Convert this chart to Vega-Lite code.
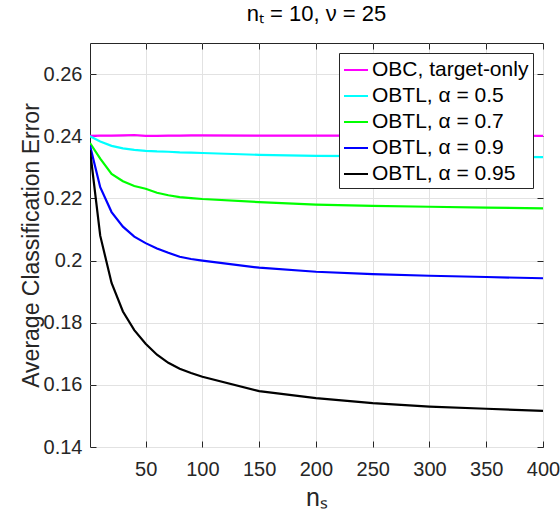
{
  "$schema": "https://vega.github.io/schema/vega-lite/v6.json",
  "width": 453,
  "height": 404,
  "autosize": {"type": "none"},
  "padding": {"left": 90, "top": 43, "right": 17, "bottom": 71},
  "background": "white",
  "title": {
    "text": "nₜ = 10, ν = 25",
    "fontSize": 22,
    "font": "Liberation Sans",
    "fontWeight": "normal",
    "color": "#000000",
    "anchor": "middle",
    "offset": 17
  },
  "config": {
    "font": "Liberation Sans",
    "view": {"stroke": "#262626", "strokeWidth": 1},
    "axis": {
      "domain": false,
      "grid": true,
      "gridColor": "#e2e2e2",
      "gridWidth": 1,
      "tickColor": "#262626",
      "tickSize": -6,
      "labelFont": "Liberation Sans",
      "labelFontSize": 20,
      "labelColor": "#262626",
      "labelFlush": false,
      "labelOverlap": false,
      "titleFont": "Liberation Sans",
      "titleFontWeight": "normal",
      "titleColor": "#262626"
    },
    "legend": {
      "orient": "top-right",
      "offset": 10,
      "fillColor": "white",
      "strokeColor": "#262626",
      "padding": 4,
      "rowPadding": 3,
      "symbolType": "stroke",
      "symbolSize": 576,
      "symbolStrokeWidth": 2,
      "labelFont": "Liberation Sans",
      "labelFontSize": 21,
      "labelColor": "#000000",
      "labelOffset": 3,
      "labelLimit": 300
    }
  },
  "data": {
    "values": [
      {"ns": 1, "series": "OBC, target-only", "err": 0.2401},
      {"ns": 10, "series": "OBC, target-only", "err": 0.2402},
      {"ns": 20, "series": "OBC, target-only", "err": 0.2402},
      {"ns": 30, "series": "OBC, target-only", "err": 0.2403},
      {"ns": 40, "series": "OBC, target-only", "err": 0.2404},
      {"ns": 50, "series": "OBC, target-only", "err": 0.2401},
      {"ns": 60, "series": "OBC, target-only", "err": 0.2401},
      {"ns": 70, "series": "OBC, target-only", "err": 0.2402},
      {"ns": 80, "series": "OBC, target-only", "err": 0.2402},
      {"ns": 90, "series": "OBC, target-only", "err": 0.2403},
      {"ns": 100, "series": "OBC, target-only", "err": 0.2403},
      {"ns": 150, "series": "OBC, target-only", "err": 0.2402},
      {"ns": 200, "series": "OBC, target-only", "err": 0.2402},
      {"ns": 250, "series": "OBC, target-only", "err": 0.2402},
      {"ns": 300, "series": "OBC, target-only", "err": 0.2402},
      {"ns": 350, "series": "OBC, target-only", "err": 0.2402},
      {"ns": 400, "series": "OBC, target-only", "err": 0.2401},

      {"ns": 1, "series": "OBTL, α = 0.5", "err": 0.2400},
      {"ns": 10, "series": "OBTL, α = 0.5", "err": 0.2383},
      {"ns": 20, "series": "OBTL, α = 0.5", "err": 0.2369},
      {"ns": 30, "series": "OBTL, α = 0.5", "err": 0.2361},
      {"ns": 40, "series": "OBTL, α = 0.5", "err": 0.2356},
      {"ns": 50, "series": "OBTL, α = 0.5", "err": 0.2353},
      {"ns": 60, "series": "OBTL, α = 0.5", "err": 0.2351},
      {"ns": 70, "series": "OBTL, α = 0.5", "err": 0.2350},
      {"ns": 80, "series": "OBTL, α = 0.5", "err": 0.2348},
      {"ns": 90, "series": "OBTL, α = 0.5", "err": 0.2347},
      {"ns": 100, "series": "OBTL, α = 0.5", "err": 0.2346},
      {"ns": 150, "series": "OBTL, α = 0.5", "err": 0.2340},
      {"ns": 200, "series": "OBTL, α = 0.5", "err": 0.2337},
      {"ns": 250, "series": "OBTL, α = 0.5", "err": 0.2336},
      {"ns": 300, "series": "OBTL, α = 0.5", "err": 0.2335},
      {"ns": 350, "series": "OBTL, α = 0.5", "err": 0.2334},
      {"ns": 400, "series": "OBTL, α = 0.5", "err": 0.2333},

      {"ns": 1, "series": "OBTL, α = 0.7", "err": 0.2378},
      {"ns": 10, "series": "OBTL, α = 0.7", "err": 0.2328},
      {"ns": 20, "series": "OBTL, α = 0.7", "err": 0.2279},
      {"ns": 30, "series": "OBTL, α = 0.7", "err": 0.2255},
      {"ns": 40, "series": "OBTL, α = 0.7", "err": 0.2240},
      {"ns": 50, "series": "OBTL, α = 0.7", "err": 0.2231},
      {"ns": 60, "series": "OBTL, α = 0.7", "err": 0.2218},
      {"ns": 70, "series": "OBTL, α = 0.7", "err": 0.2210},
      {"ns": 80, "series": "OBTL, α = 0.7", "err": 0.2204},
      {"ns": 90, "series": "OBTL, α = 0.7", "err": 0.2201},
      {"ns": 100, "series": "OBTL, α = 0.7", "err": 0.2198},
      {"ns": 150, "series": "OBTL, α = 0.7", "err": 0.2188},
      {"ns": 200, "series": "OBTL, α = 0.7", "err": 0.2180},
      {"ns": 250, "series": "OBTL, α = 0.7", "err": 0.2176},
      {"ns": 300, "series": "OBTL, α = 0.7", "err": 0.2173},
      {"ns": 350, "series": "OBTL, α = 0.7", "err": 0.2170},
      {"ns": 400, "series": "OBTL, α = 0.7", "err": 0.2168},

      {"ns": 1, "series": "OBTL, α = 0.9", "err": 0.2370},
      {"ns": 10, "series": "OBTL, α = 0.9", "err": 0.2236},
      {"ns": 20, "series": "OBTL, α = 0.9", "err": 0.2156},
      {"ns": 30, "series": "OBTL, α = 0.9", "err": 0.2109},
      {"ns": 40, "series": "OBTL, α = 0.9", "err": 0.2077},
      {"ns": 50, "series": "OBTL, α = 0.9", "err": 0.2056},
      {"ns": 60, "series": "OBTL, α = 0.9", "err": 0.2039},
      {"ns": 70, "series": "OBTL, α = 0.9", "err": 0.2025},
      {"ns": 80, "series": "OBTL, α = 0.9", "err": 0.2012},
      {"ns": 90, "series": "OBTL, α = 0.9", "err": 0.2005},
      {"ns": 100, "series": "OBTL, α = 0.9", "err": 0.2000},
      {"ns": 150, "series": "OBTL, α = 0.9", "err": 0.1977},
      {"ns": 200, "series": "OBTL, α = 0.9", "err": 0.1964},
      {"ns": 250, "series": "OBTL, α = 0.9", "err": 0.1956},
      {"ns": 300, "series": "OBTL, α = 0.9", "err": 0.1951},
      {"ns": 350, "series": "OBTL, α = 0.9", "err": 0.1947},
      {"ns": 400, "series": "OBTL, α = 0.9", "err": 0.1943},

      {"ns": 1, "series": "OBTL, α = 0.95", "err": 0.2355},
      {"ns": 10, "series": "OBTL, α = 0.95", "err": 0.2080},
      {"ns": 20, "series": "OBTL, α = 0.95", "err": 0.1928},
      {"ns": 30, "series": "OBTL, α = 0.95", "err": 0.1836},
      {"ns": 40, "series": "OBTL, α = 0.95", "err": 0.1776},
      {"ns": 50, "series": "OBTL, α = 0.95", "err": 0.1732},
      {"ns": 60, "series": "OBTL, α = 0.95", "err": 0.1697},
      {"ns": 70, "series": "OBTL, α = 0.95", "err": 0.1671},
      {"ns": 80, "series": "OBTL, α = 0.95", "err": 0.1652},
      {"ns": 90, "series": "OBTL, α = 0.95", "err": 0.1638},
      {"ns": 100, "series": "OBTL, α = 0.95", "err": 0.1626},
      {"ns": 150, "series": "OBTL, α = 0.95", "err": 0.1580},
      {"ns": 200, "series": "OBTL, α = 0.95", "err": 0.1557},
      {"ns": 250, "series": "OBTL, α = 0.95", "err": 0.1541},
      {"ns": 300, "series": "OBTL, α = 0.95", "err": 0.1530},
      {"ns": 350, "series": "OBTL, α = 0.95", "err": 0.1523},
      {"ns": 400, "series": "OBTL, α = 0.95", "err": 0.1516}
    ]
  },
  "layer": [
    {
      "mark": {"type": "line", "strokeWidth": 2.2, "clip": true},
      "encoding": {
        "x": {
          "field": "ns",
          "type": "quantitative",
          "scale": {"domain": [1, 400], "nice": false, "zero": false},
          "axis": {
            "orient": "bottom",
            "values": [50, 100, 150, 200, 250, 300, 350, 400],
            "labelPadding": 18,
            "title": "nₛ",
            "titleFontSize": 25,
            "titlePadding": 6
          }
        },
        "y": {
          "field": "err",
          "type": "quantitative",
          "scale": {"domain": [0.14, 0.27], "nice": false, "zero": false},
          "axis": {
            "orient": "left",
            "values": [0.14, 0.16, 0.18, 0.2, 0.22, 0.24, 0.26],
            "format": ".2~f",
            "labelPadding": 14,
            "title": "Average Classification Error",
            "titleFontSize": 23,
            "titlePadding": 0
          }
        },
        "color": {
          "field": "series",
          "type": "nominal",
          "scale": {
            "domain": ["OBC, target-only", "OBTL, α = 0.5", "OBTL, α = 0.7", "OBTL, α = 0.9", "OBTL, α = 0.95"],
            "range": ["#ff00ff", "#00ffff", "#00ff00", "#0000ff", "#000000"]
          },
          "legend": {"title": null}
        }
      }
    },
    {
      "mark": {"type": "point", "opacity": 0},
      "encoding": {
        "x": {
          "field": "ns",
          "type": "quantitative",
          "axis": {
            "orient": "top",
            "values": [50, 100, 150, 200, 250, 300, 350, 400],
            "labels": false,
            "grid": false,
            "title": null
          }
        },
        "y": {
          "field": "err",
          "type": "quantitative",
          "axis": {
            "orient": "right",
            "values": [0.14, 0.16, 0.18, 0.2, 0.22, 0.24, 0.26],
            "labels": false,
            "grid": false,
            "title": null
          }
        }
      }
    }
  ],
  "resolve": {"axis": {"x": "independent", "y": "independent"}}
}
